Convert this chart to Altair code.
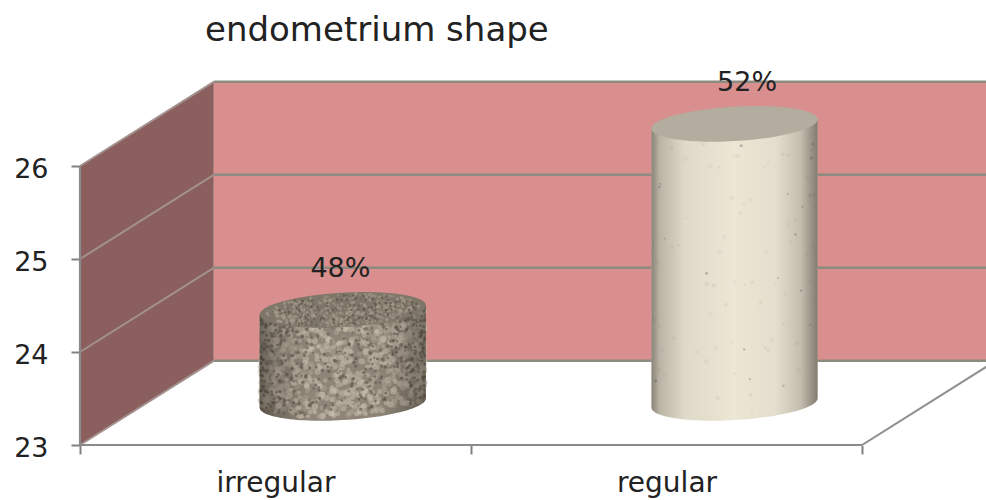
import altair as alt
import numpy as np
import pandas as pd

# Chart content
title_text = "endometrium shape"
categories = ["irregular", "regular"]
values = [24, 26]
value_labels = ["48%", "52%"]
y_ticks = [23, 24, 25, 26]
x_ticks = [0, 0.5, 1, 1.5, 2]

FONT = "DejaVu Sans"
PLOT_W, PLOT_H = 906, 385
X_MAX = 906 / 391
Y_MAX = 23 + 385 / 93
DEPTH_X, DEPTH_Y = 0.342, 0.905    # oblique offset of the back wall, in data units
RADIUS_X, RADIUS_Y = 0.2125, 0.185  # cylinder cross-section ellipse
TILT = 0.05                         # slight roll of the ellipses

xs = alt.Scale(domain=[0, X_MAX], zero=False, nice=False)
ys = alt.Scale(domain=[23, Y_MAX], zero=False, nice=False)

# Every layer uses the same axis definitions so that they merge into one
X = alt.X("x:Q", scale=xs, title=None, axis=alt.Axis(
    values=x_ticks, domain=False, grid=False,
    tickSize=9, tickColor="#808080", tickWidth=2,
    tickOpacity=alt.condition("datum.value % 1 != 0", alt.value(0), alt.value(1)),
    labelExpr=(
        f"datum.value == 0.5 ? '{categories[0]}' : "
        f"datum.value == 1.5 ? '{categories[1]}' : ''"
    ),
    labelFont=FONT, labelFontSize=28, labelColor="#222222", labelPadding=15,
))
Y = alt.Y("y:Q", scale=ys, title=None, axis=alt.Axis(
    values=y_ticks, format="d", domain=False, grid=False,
    tickSize=9, tickColor="#808080", tickWidth=2, labelOffset=3,
    labelFont=FONT, labelFontSize=27, labelColor="#222222", labelPadding=23,
))


def scatter(idx, salt):
    """Deterministic unit-interval hash used to lay out the stone grain."""
    return (np.sin(idx * 12.9898 + salt * 78.233) * 43758.5453) % 1


def ellipse_table(base, cx, n=61):
    """Horizontal position and roll-adjusted centre line of a cylinder ellipse."""
    t = np.cos(np.linspace(np.pi, 0, n))
    mid = base + DEPTH_Y / 2 + TILT * t
    return t, cx + RADIUS_X * t, mid


def body(value, cx, fill):
    t, x, mid_top = ellipse_table(value, cx)
    _, _, mid_base = ellipse_table(23, cx)
    lower = mid_base - RADIUS_Y * np.sqrt(np.clip(1 - t**2, 0, 1))
    df = pd.DataFrame({"x": x, "y": mid_top, "y2": lower})
    return alt.Chart(df).mark_area(color=fill, orient="vertical").encode(X, Y, y2="y2:Q")


def cap(value, cx, fill):
    t, x, mid = ellipse_table(value, cx)
    half = RADIUS_Y * np.sqrt(np.clip(1 - t**2, 0, 1))
    df = pd.DataFrame({"x": x, "y": mid + half, "y2": mid - half})
    return alt.Chart(df).mark_area(color=fill, orient="vertical").encode(X, Y, y2="y2:Q")


def mottling(value, cx, count, palette, size, opacity, top_face=False, salt=1):
    """Scattered stone grain over a cylinder's side or top face."""
    idx = np.arange(1, count + 1)
    u, v = scatter(idx, salt), scatter(idx, salt + 1.37)
    if top_face:
        ang, rad = 2 * np.pi * u, np.sqrt(v) * 0.92
        t = rad * np.cos(ang)
        y = value + DEPTH_Y / 2 + TILT * t + RADIUS_Y * rad * np.sin(ang)
    else:
        t = np.sin((u - 0.5) * np.pi * 0.9)
        rim = RADIUS_Y * np.sqrt(1 - t**2)
        top = value + DEPTH_Y / 2 + TILT * t - rim
        bottom = 23 + DEPTH_Y / 2 + TILT * t - rim
        y = bottom + 0.04 + (top - bottom - 0.04) * v
    df = pd.DataFrame({
        "x": cx + RADIUS_X * t,
        "y": y,
        "tone": [palette[i % len(palette)] for i in idx],
        "s": size * (0.5 + scatter(idx, salt + 2.11)),
    })
    return alt.Chart(df).mark_circle(opacity=opacity).encode(
        X, Y,
        color=alt.Color("tone:N", scale=None),
        size=alt.Size("s:Q", scale=None),
    )


def gradient(stops):
    return alt.Gradient(
        gradient="linear", x1=0, x2=1, y1=0, y2=0,
        stops=[alt.GradientStop(offset=o, color=c) for o, c in stops],
    )


# Walls
back_wall = alt.Chart(pd.DataFrame({
    "x": [DEPTH_X, X_MAX], "y": [26 + DEPTH_Y] * 2, "y2": [23 + DEPTH_Y] * 2,
})).mark_area(color="#d98f8e", orient="vertical").encode(X, Y, y2="y2:Q")
side_wall = alt.Chart(pd.DataFrame({
    "x": [0, DEPTH_X], "y": [26, 26 + DEPTH_Y], "y2": [23, 23 + DEPTH_Y],
})).mark_area(color="#8b5f5d", orient="vertical").encode(X, Y, y2="y2:Q")

# Gridlines on the back wall and their continuation on the side wall
grid_rows = []
for tick in y_ticks:
    grid_rows += [{"x": DEPTH_X, "y": tick + DEPTH_Y, "k": tick}, {"x": X_MAX, "y": tick + DEPTH_Y, "k": tick}]
grid_back = alt.Chart(pd.DataFrame(grid_rows)).mark_line(color="#8d8a80", strokeWidth=2.5).encode(
    X, Y, detail="k:N"
)

side_rows = []
for tick in y_ticks:
    side_rows += [{"x": 0, "y": tick, "k": tick}, {"x": DEPTH_X, "y": tick + DEPTH_Y, "k": tick}]
grid_side = alt.Chart(pd.DataFrame(side_rows)).mark_line(color="#a3918f", strokeWidth=2).encode(
    X, Y, detail="k:N"
)

# Axis frame and the floor's right edge
axis_frame = alt.Chart(pd.DataFrame({"x": [0, 0, 2], "y": [26, 23, 23], "o": [0, 1, 2]})).mark_line(
    color="#8a8a8a", strokeWidth=2.2
).encode(X, Y, order=alt.Order("o:Q"))
floor_edge = alt.Chart(pd.DataFrame({"x": [2, 2 + DEPTH_X], "y": [23, 23 + DEPTH_Y]})).mark_line(
    color="#8f8f8f", strokeWidth=2, clip=True
).encode(X, Y)

# Cylinders
cx = [0.5 + DEPTH_X / 2 + 0.001, 1.5 + DEPTH_X / 2 + 0.003]

rough_shade = gradient([(0, "rgba(50,44,38,0.6)"), (0.1, "rgba(50,44,38,0.3)"), (0.3, "rgba(50,44,38,0)"),
                        (0.75, "rgba(50,44,38,0.03)"), (1, "rgba(50,44,38,0.5)")])
smooth_shade = gradient([(0, "rgba(70,66,56,0.6)"), (0.05, "rgba(70,66,56,0.3)"), (0.2, "rgba(70,66,56,0.08)"),
                         (0.5, "rgba(70,66,56,0)"), (0.75, "rgba(70,66,56,0.05)"), (0.9, "rgba(70,66,56,0.25)"),
                         (1, "rgba(70,66,56,0.65)")])

rough_layers = [
    body(values[0], cx[0], "#8f8578"),
    mottling(values[0], cx[0], 1000, ["#c4baa8", "#cfc5b3", "#b0a695"], 28, 0.5, salt=1),
    mottling(values[0], cx[0], 380, ["#5a5247", "#665d51"], 9, 0.6, salt=5),
    body(values[0], cx[0], rough_shade),
    cap(values[0], cx[0], "#7f766a"),
    mottling(values[0], cx[0], 380, ["#a99f8f", "#9a9083"], 8, 0.65, top_face=True, salt=9),
    mottling(values[0], cx[0], 160, ["#4f473d"], 5, 0.5, top_face=True, salt=13),
]
smooth_layers = [
    body(values[1], cx[1], "#ece6d5"),
    mottling(values[1], cx[1], 70, ["#dcd6c5", "#e0dac9"], 16, 0.6, salt=2),
    mottling(values[1], cx[1], 18, ["#b5af9f", "#a39d8d"], 6, 0.7, salt=7),
    body(values[1], cx[1], smooth_shade),
    cap(values[1], cx[1], "#b2ad9e"),
]

# Value labels, placed above the cylinder at mid depth
label_shift = [-0.006, 0.032]
label_df = pd.DataFrame({
    "x": [c + s for c, s in zip(cx, label_shift)],
    "y": [v + DEPTH_Y - 0.01 for v in values],
    "t": value_labels,
})
value_text = alt.Chart(label_df).mark_text(
    font=FONT, fontSize=27, color="#222222", baseline="middle", align="center"
).encode(X, Y, text="t:N")

chart = alt.layer(
    back_wall, side_wall, grid_back, grid_side, axis_frame, floor_edge,
    *rough_layers, *smooth_layers, value_text,
).properties(
    width=PLOT_W,
    height=PLOT_H,
    padding={"left": 80, "top": 60, "right": 0, "bottom": 55},
    autosize=alt.AutoSizeParams(type="none"),
    background="white",
    title=alt.TitleParams(
        title_text, anchor="start", frame="group", dx=125, offset=12,
        font=FONT, fontSize=34, fontWeight="normal", color="#222222",
    ),
).configure_view(stroke=None)

chart.save("out.html", embed_options={"renderer": "svg", "actions": False})
